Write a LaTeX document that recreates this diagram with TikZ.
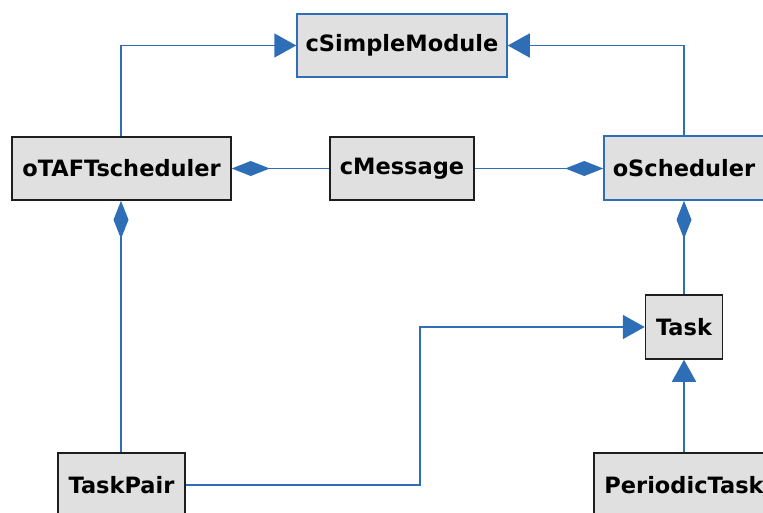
\documentclass[tikz,border=0pt]{standalone}
\usepackage{fontspec}
\setmainfont{DejaVu Sans}
\usetikzlibrary{arrows.meta}
\definecolor{lnblue}{RGB}{46,110,182}
\definecolor{boxfill}{RGB}{224,224,224}
\definecolor{boxdark}{RGB}{30,30,30}
\tikzset{
  cls/.style={draw=boxdark, fill=boxfill, line width=1.5pt, inner sep=0pt,
    font=\fontsize{22.5}{26}\selectfont\bfseries, text=black},
  clsb/.style={cls, draw=lnblue},
  conn/.style={draw=lnblue, line width=1.6pt},
  inh/.style={conn, -{Triangle[length=22pt,width=24pt]}},
  comp/.style={conn, -{Diamond[length=38pt,width=15pt]}},
}
\begin{document}
\begin{tikzpicture}[x=1pt,y=-1pt]
\useasboundingbox (0,0) rectangle (763,512);
\clip (0,0) rectangle (763,512);
\node[clsb, minimum width=210pt, minimum height=63pt] (csm) at (402,45.5) {cSimpleModule};
\node[cls, minimum width=219pt, minimum height=63pt] (otaft) at (121.5,168.5) {oTAFTscheduler};
\node[cls, minimum width=144pt, minimum height=63pt] (cmsg) at (402,168.5) {cMessage};
\node[clsb, minimum width=160pt, minimum height=64pt] (osched) at (684,168) {oScheduler};
\node[cls, minimum width=77pt, minimum height=64pt] (task) at (684,327) {Task};
\node[cls, minimum width=180pt, minimum height=64pt] (ptask) at (684,485) {PeriodicTask};
\node[cls, minimum width=127pt, minimum height=64pt] (tpair) at (121.5,485) {TaskPair};
\coordinate (jog) at (420,0);
\coordinate (lx) at (121,0);
\draw[inh] (otaft.north -| lx) |- (csm.west);
\draw[inh] (osched.north) |- (csm.east);
\draw[comp] (cmsg.west) -- (otaft.east);
\draw[comp] (cmsg.east) -- (osched.west |- cmsg.east);
\draw[comp] (task.north) -- (osched.south);
\draw[comp] (tpair.north -| lx) -- (otaft.south -| lx);
\draw[inh] (tpair.east) -- (tpair.east -| jog) |- (task.west);
\draw[inh] (ptask.north) -- (task.south);
\end{tikzpicture}
\end{document}
